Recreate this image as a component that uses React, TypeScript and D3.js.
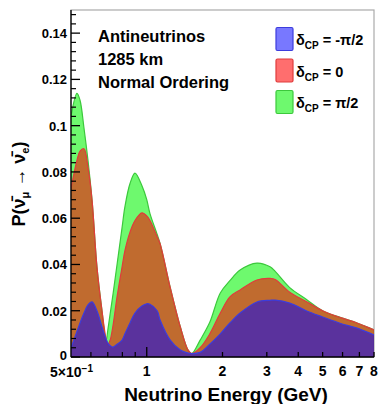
import React from 'react'
import * as d3 from 'd3'

// neutrino energy in GeV (log axis)
const energy = [0.5, 0.528, 0.543, 0.563, 0.584, 0.606, 0.634, 0.664, 0.689, 0.701, 0.714, 0.734, 0.762, 0.798, 0.819, 0.858, 0.898, 0.957, 1.0, 1.03, 1.1, 1.13, 1.24, 1.36, 1.46, 1.51, 1.63, 1.78, 1.96, 2.14, 2.35, 2.74, 3.09, 3.24, 3.7, 4.3, 5.0, 5.9, 6.85, 8.0]

// oscillation probability for each delta_CP
const probPlusHalfPi = [0.104, 0.114, 0.111, 0.099, 0.085, 0.068, 0.039, 0.02, 0.007, 0.012, 0.018, 0.027, 0.04, 0.056, 0.065, 0.075, 0.0795, 0.074, 0.068, 0.062, 0.053, 0.049, 0.03, 0.013, 0.003, 0.0015, 0.0073, 0.015, 0.0277, 0.033, 0.0376, 0.0406, 0.039, 0.037, 0.03, 0.025, 0.02, 0.017, 0.0147, 0.0117]
const probZero = [0.073, 0.085, 0.089, 0.09, 0.082, 0.068, 0.039, 0.02, 0.008, 0.0055, 0.007, 0.0135, 0.026, 0.039, 0.046, 0.054, 0.059, 0.0623, 0.061, 0.059, 0.052, 0.049, 0.03, 0.013, 0.003, 0.0015, 0.004, 0.01, 0.019, 0.026, 0.029, 0.0333, 0.034, 0.0335, 0.028, 0.024, 0.02, 0.017, 0.0147, 0.0117]
const probMinusHalfPi = [0.004, 0.011, 0.0147, 0.019, 0.0225, 0.0238, 0.02, 0.013, 0.0078, 0.006, 0.005, 0.0043, 0.0055, 0.0073, 0.01, 0.0147, 0.019, 0.022, 0.023, 0.0228, 0.02, 0.016, 0.0073, 0.003, 0.0017, 0.0015, 0.002, 0.0055, 0.01, 0.0147, 0.019, 0.0238, 0.0245, 0.0246, 0.0233, 0.02, 0.0173, 0.0145, 0.0125, 0.0095]

const yMajorTicks = [0, 0.02, 0.04, 0.06, 0.08, 0.1, 0.12, 0.14]
const yTickLabels = ['0', '0.02', '0.04', '0.06', '0.08', '0.1', '0.12', '0.14']
const xLabelTicks = [1, 2, 3, 4, 5, 6, 7, 8]
const xMinorTicks = [0.6, 0.7, 0.8, 0.9]

const legendItems = [
  { label: '-π/2', fill: 'rgba(0,0,255,0.53)', stroke: '#3c3cdc' },
  { label: '0', fill: 'rgba(255,0,0,0.57)', stroke: '#e03c3c' },
  { label: 'π/2', fill: 'rgba(0,245,0,0.57)', stroke: '#3cc83c' },
]

const W = 379
const H = 404
const left = 71
const right = 374
const top = 10
const bottom = 357
const font = '"Liberation Sans", Arial, Helvetica, sans-serif'

export default function App() {
  const x = d3.scaleLog().domain([0.5, 8]).range([left, right])
  const y = d3.scaleLinear().domain([0, 0.15]).range([bottom, top])

  const series = [
    { values: probPlusHalfPi, ...legendItems[2] },
    { values: probZero, ...legendItems[1] },
    { values: probMinusHalfPi, ...legendItems[0] },
  ]

  const curve = d3.curveCatmullRom.alpha(0.5)
  const area = d3
    .area<number>()
    .x((_, i) => x(energy[i]))
    .y0(y(0))
    .y1(d => y(d))
    .curve(curve)
  const line = d3
    .line<number>()
    .x((_, i) => x(energy[i]))
    .y(d => y(d))
    .curve(curve)

  // minor y ticks every 0.004
  const yMinor = d3.range(0, 0.1501, 0.004).filter(v => Math.abs(v / 0.02 - Math.round(v / 0.02)) > 1e-6)

  return (
    <svg width={W} height={H} style={{ position: 'absolute', left: 0, top: 0, background: '#fff' }} fontFamily={font} fontWeight="bold">
      <defs>
        <clipPath id="plotClip">
          <rect x={left} y={top} width={right - left} height={bottom - top} />
        </clipPath>
      </defs>

      {/* frame */}
      <rect x={left} y={top} width={right - left} height={bottom - top} fill="none" stroke="#aaa" strokeWidth={1.2} />

      <g clipPath="url(#plotClip)">
        {series.map((s, i) => (
          <g key={i}>
            <path d={area(s.values) || ''} fill={s.fill} />
            <path d={line(s.values) || ''} fill="none" stroke={s.stroke} strokeWidth={1.2} />
          </g>
        ))}
      </g>

      {/* axes */}
      <line x1={left} x2={left} y1={top} y2={bottom} stroke="#000" strokeWidth={1.3} />
      <line x1={left} x2={right} y1={bottom} y2={bottom} stroke="#000" strokeWidth={1.3} />

      {yMajorTicks.map((v, i) => (
        <g key={'ym' + i}>
          <line x1={left} x2={left + 9} y1={y(v)} y2={y(v)} stroke="#000" strokeWidth={1.3} />
          <text x={left - 4} y={v === 0 ? y(v) + 3 : y(v) + 5} fontSize={13} textAnchor="end">{yTickLabels[i]}</text>
        </g>
      ))}
      {yMinor.map((v, i) => (
        <line key={'yn' + i} x1={left} x2={left + 5} y1={y(v)} y2={y(v)} stroke="#000" strokeWidth={1.2} />
      ))}

      {xMinorTicks.map((v, i) => (
        <line key={'xn' + i} x1={x(v)} x2={x(v)} y1={bottom} y2={bottom - 5} stroke="#000" strokeWidth={1.2} />
      ))}
      {xLabelTicks.map((v, i) => (
        <g key={'xm' + i}>
          <line x1={x(v)} x2={x(v)} y1={bottom} y2={bottom - (v === 1 ? 10 : 5)} stroke="#000" strokeWidth={1.3} />
          <text x={x(v)} y={376} fontSize={14} textAnchor="middle">{v}</text>
        </g>
      ))}
      <text x={x(0.5) - 21} y={377} fontSize={14}>
        5×10<tspan dy={-5} fontSize={10}>−1</tspan>
      </text>

      {/* axis titles */}
      <text x={226} y={401} fontSize={19} textAnchor="middle">Neutrino Energy (GeV)</text>
      <text transform={`translate(25,184) rotate(-90)`} fontSize={18} textAnchor="middle">
        P(ν̄<tspan dy={4} fontSize={11}>μ</tspan><tspan dy={-4}> → ν̄</tspan><tspan dy={4} fontSize={11}>e</tspan><tspan dy={-4}>)</tspan>
      </text>

      {/* annotation */}
      <text x={98} y={42} fontSize={16.5}>Antineutrinos</text>
      <text x={98} y={65} fontSize={16.5}>1285 km</text>
      <text x={98} y={88} fontSize={16.5}>Normal Ordering</text>

      {/* legend */}
      {legendItems.map((d, i) => {
        const cy = 39 + i * 31.5
        return (
          <g key={'lg' + i}>
            <rect x={276} y={cy - 11.5} width={17} height={23} rx={1.5} fill={d.fill} stroke={d.stroke} strokeWidth={1.2} />
            <text x={296} y={cy + 6} fontSize={14.5}>
              δ<tspan dy={4} fontSize={10}>CP</tspan><tspan dy={-4}> = {d.label}</tspan>
            </text>
          </g>
        )
      })}
    </svg>
  )
}
